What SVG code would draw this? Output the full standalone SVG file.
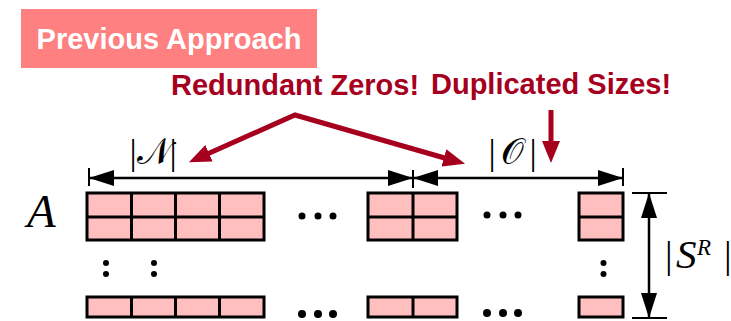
<svg xmlns="http://www.w3.org/2000/svg" width="731" height="321" viewBox="0 0 731 321">
  <defs>
    <style>
      .cell { fill: #ffbfbf; stroke: #000; stroke-width: 3; }
      .grid { stroke: #000; stroke-width: 3; fill: none; }
      .dot { fill: #000; }
      .dim { stroke: #000; stroke-width: 2.5; fill: none; }
      .tick { stroke: #000; stroke-width: 2; fill: none; }
      .callout { stroke: #a6001e; stroke-width: 5; fill: none; stroke-linejoin: miter; }
      .warn { font-family: "Liberation Sans", Arial, sans-serif; font-weight: bold; font-size: 29px; fill: #a6001e; }
      .math { font-family: "Liberation Serif", "DejaVu Serif", serif; fill: #000; }
      .script { font-family: "DejaVu Serif", "DejaVu Sans", "Liberation Serif", serif; }
    </style>
    <marker id="redHead" markerUnits="userSpaceOnUse" markerWidth="22" markerHeight="18" refX="8" refY="9" orient="auto-start-reverse">
      <path d="M0,0 L22,9 L0,18 Z" fill="#a6001e"/>
    </marker>
    <marker id="blackHead" markerUnits="userSpaceOnUse" markerWidth="25" markerHeight="16" refX="25" refY="8" orient="auto-start-reverse">
      <path d="M0,0 L25,8 L0,16 Z" fill="#000"/>
    </marker>
  </defs>

  <!-- title badge -->
  <g id="title">
    <rect x="21" y="9" width="296" height="59" fill="#ff8080"/>
    <text x="169" y="49" text-anchor="middle" font-family="'Liberation Sans', Arial, sans-serif" font-weight="bold" font-size="29" fill="#fff">Previous Approach</text>
  </g>

  <!-- callout texts -->
  <g id="note-zeros">
    <text class="warn" x="171" y="95">Redundant Zeros!</text>
  </g>
  <g id="note-sizes">
    <text class="warn" x="431" y="94">Duplicated Sizes!</text>
  </g>

  <!-- dimension labels -->
  <g id="label-N">
    <text class="math" font-size="36" y="164"><tspan x="129.5">|</tspan><tspan class="script" x="154" text-anchor="middle">𝒩</tspan><tspan x="169.5">|</tspan></text>
  </g>
  <g id="label-O">
    <text class="math" font-size="36" y="164"><tspan x="488.5">|</tspan><tspan class="script" x="512.5" text-anchor="middle">𝒪</tspan><tspan x="529.5">|</tspan></text>
  </g>
  <g id="label-SR">
    <text class="math" font-size="38" y="268"><tspan x="665">|</tspan><tspan x="676" font-size="41" font-style="italic">S</tspan><tspan x="697" y="255" font-size="23" font-style="italic">R</tspan><tspan x="724" y="268">|</tspan></text>
  </g>
  <g id="label-A">
    <text class="math" x="27" y="227" font-size="47" font-style="italic">A</text>
  </g>

  <!-- matrix rows: first row -->
  <g id="row1-left">
    <rect class="cell" x="87" y="193" width="177" height="47"/>
    <path class="grid" d="M87,217 H264 M131.5,193 V240 M175.5,193 V240 M219.5,193 V240"/>
  </g>
  <g id="row1-mid">
    <rect class="cell" x="368" y="193" width="89" height="47"/>
    <path class="grid" d="M368,217 H457 M413,193 V240"/>
  </g>
  <g id="row1-right">
    <rect class="cell" x="579" y="193" width="44" height="47"/>
    <path class="grid" d="M579,217 H623"/>
  </g>

  <!-- matrix rows: last row -->
  <g id="rowN-left">
    <rect class="cell" x="87" y="297" width="177" height="20"/>
    <path class="grid" d="M131.5,297 V317 M175.5,297 V317 M219.5,297 V317"/>
  </g>
  <g id="rowN-mid">
    <rect class="cell" x="368" y="297" width="89" height="20"/>
    <path class="grid" d="M413,297 V317"/>
  </g>
  <g id="rowN-right">
    <rect class="cell" x="579" y="297" width="44" height="20"/>
  </g>

  <!-- ellipses -->
  <g id="ellipses">
    <circle class="dot" cx="302" cy="216" r="3.5"/>
    <circle class="dot" cx="318" cy="216" r="3.5"/>
    <circle class="dot" cx="333" cy="216" r="3.5"/>
    <circle class="dot" cx="487" cy="215" r="3.5"/>
    <circle class="dot" cx="503" cy="215" r="3.5"/>
    <circle class="dot" cx="518" cy="215" r="3.5"/>
    <circle class="dot" cx="302" cy="314" r="4"/>
    <circle class="dot" cx="318" cy="314" r="4"/>
    <circle class="dot" cx="333" cy="314" r="4"/>
    <circle class="dot" cx="487" cy="313" r="4"/>
    <circle class="dot" cx="503" cy="313" r="4"/>
    <circle class="dot" cx="518" cy="313" r="4"/>
    <circle class="dot" cx="106" cy="263" r="3"/>
    <circle class="dot" cx="106" cy="274" r="3"/>
    <circle class="dot" cx="154" cy="263" r="3"/>
    <circle class="dot" cx="154" cy="274" r="3"/>
    <circle class="dot" cx="603.5" cy="263" r="3"/>
    <circle class="dot" cx="603.5" cy="274" r="3"/>
  </g>

  <!-- connectors -->
  <g id="connectors">
    <path class="tick" d="M89,168 V186 M413,170 V188 M623,168 V186 M632,193 H667 M632,318 H667"/>
    <path class="dim" d="M89,178 H413" marker-start="url(#blackHead)" marker-end="url(#blackHead)"/>
    <path class="dim" d="M413,178 H623" marker-start="url(#blackHead)" marker-end="url(#blackHead)"/>
    <path class="dim" d="M649,193 V318" marker-start="url(#blackHead)" marker-end="url(#blackHead)"/>
    <path class="callout" d="M201.7,156.5 L295,115 L451.6,160" marker-start="url(#redHead)" marker-end="url(#redHead)"/>
    <path class="callout" d="M551,110 V149" marker-end="url(#redHead)"/>
  </g>
</svg>
